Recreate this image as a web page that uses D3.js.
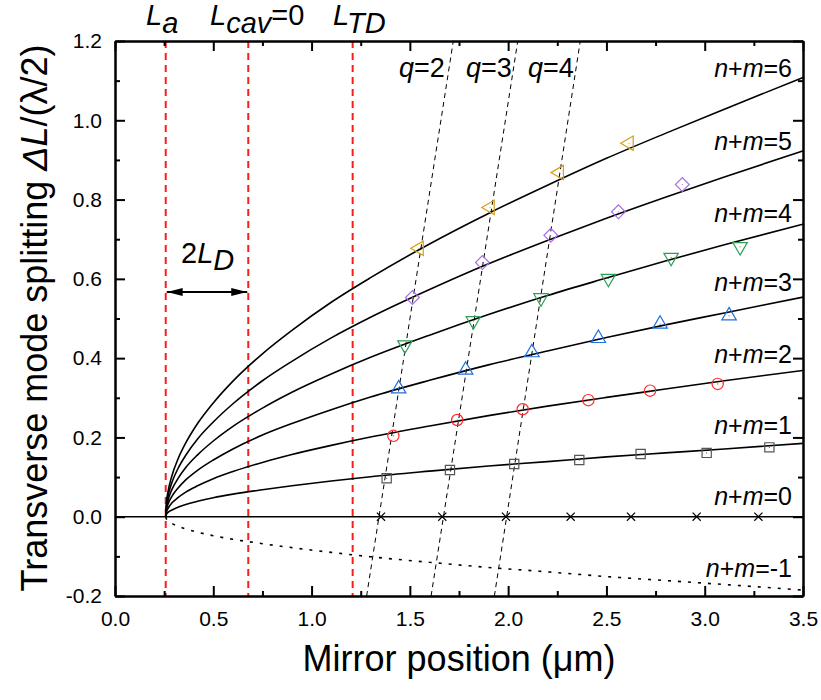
<!DOCTYPE html>
<html><head><meta charset="utf-8">
<script src="https://cdnjs.cloudflare.com/ajax/libs/d3/7.8.5/d3.min.js"></script>
<style>
body{margin:0;background:#fff}
svg{display:block}
text{font-family:"Liberation Sans",Arial,sans-serif;fill:#000}
</style>
</head><body>
<svg id="chart" width="821" height="700"></svg>
<script>
// ---------------- data ----------------
const curveX   = [0.258,0.262,0.27,0.29,0.32,0.36,0.42,0.5,0.6,0.75,0.9,1.1,1.3,1.6,1.9,2.2,2.5,2.8,3.1,3.5];
const curveNM1 = [0,0.006,0.011,0.017,0.024,0.031,0.039,0.048,0.057,0.068,0.078,0.090,0.101,0.115,0.128,0.139,0.151,0.161,0.171,0.185];
const curveNM2 = [0,0.012,0.021,0.035,0.048,0.062,0.078,0.096,0.114,0.137,0.157,0.180,0.201,0.229,0.255,0.279,0.301,0.322,0.343,0.369];
const curveNM3 = [0,0.018,0.032,0.052,0.072,0.093,0.117,0.143,0.171,0.206,0.235,0.270,0.302,0.344,0.383,0.418,0.452,0.484,0.514,0.554];
const curveNM4 = [0,0.024,0.042,0.069,0.096,0.124,0.156,0.191,0.228,0.274,0.314,0.360,0.402,0.458,0.510,0.558,0.602,0.645,0.686,0.738];
const curveNM5 = [0,0.031,0.053,0.087,0.121,0.155,0.196,0.239,0.285,0.343,0.392,0.451,0.503,0.573,0.638,0.697,0.753,0.806,0.857,0.923];
const curveNM6 = [0,0.037,0.064,0.104,0.145,0.186,0.235,0.287,0.342,0.411,0.470,0.541,0.603,0.688,0.765,0.836,0.904,0.967,1.028,1.108];
const curveNMm1= [0,-0.006,-0.011,-0.017,-0.024,-0.031,-0.039,-0.048,-0.057,-0.068,-0.078,-0.090,-0.101,-0.115,-0.128,-0.139,-0.151,-0.161,-0.171,-0.185];
const zeroLineX = [0, 3.5];
const zeroLineY = [0, 0];
const curveLabels = ["n+m=6","n+m=5","n+m=4","n+m=3","n+m=2","n+m=1","n+m=0","n+m=-1"];

const crossX   = [1.353,1.665,1.989,2.318,2.625,2.959,3.273];
const crossY   = [0,0,0,0,0,0,0];
const squareX  = [1.382,1.704,2.031,2.362,2.674,3.010,3.329];
const squareY  = [0.097,0.118,0.133,0.143,0.158,0.161,0.175];
const circleX  = [1.416,1.741,2.074,2.408,2.722,3.066];
const circleY  = [0.204,0.244,0.271,0.294,0.318,0.335];
const triUpX   = [1.443,1.784,2.121,2.459,2.773,3.124];
const triUpY   = [0.323,0.370,0.414,0.450,0.486,0.507];
const triDownX = [1.475,1.823,2.167,2.510,2.829,3.180];
const triDownY = [0.433,0.494,0.552,0.601,0.654,0.681];
const diamondX = [1.513,1.869,2.217,2.561,2.886];
const diamondY = [0.553,0.641,0.710,0.769,0.838];
const triLeftX = [1.547,1.908,2.260,2.615];
const triLeftY = [0.677,0.780,0.868,0.942];

const qLabels  = ["2","3","4"];
const qLineXBottom = [1.280,1.608,1.930];   // at y = -0.2
const qLineXTop    = [1.721,2.049,2.367];   // at y = 1.2
const refLineX = [0.258, 0.678, 1.209];      // La, Lcav=0, LTD

const xTicks = [0,0.5,1,1.5,2,2.5,3,3.5];
const xTickLabels = ["0.0","0.5","1.0","1.5","2.0","2.5","3.0","3.5"];
const xMinor = [0.25,0.75,1.25,1.75,2.25,2.75,3.25];
const yTicks = [-0.2,0,0.2,0.4,0.6,0.8,1.0,1.2];
const yTickLabels = ["-0.2","0.0","0.2","0.4","0.6","0.8","1.0","1.2"];
const yMinor = [-0.1,0.1,0.3,0.5,0.7,0.9,1.1];

// ---------------- layout ----------------
const L = 115, R = 803, T = 41, B = 596;
const svg = d3.select("#chart");
const x = d3.scaleLinear().domain([0,3.5]).range([L,R]);
const y = d3.scaleLinear().domain([-0.2,1.2]).range([B,T]);
const FONT = '"Liberation Sans",Arial,sans-serif';

const plot = svg.append("g");

// red dashed reference lines
plot.selectAll("line.ref").data(refLineX).enter().append("line")
  .attr("x1",d=>x(d)).attr("x2",d=>x(d)).attr("y1",y(1.2)).attr("y2",y(-0.2))
  .attr("stroke","#ff1a1a").attr("stroke-width",2).attr("stroke-dasharray","7,5");

// q dashed lines
plot.selectAll("line.q").data(qLabels).enter().append("line")
  .attr("x1",(d,i)=>x(qLineXBottom[i])).attr("y1",y(-0.2))
  .attr("x2",(d,i)=>x(qLineXTop[i])).attr("y2",y(1.2))
  .attr("stroke","#000").attr("stroke-width",1).attr("stroke-dasharray","5,4");

// curves
const line = d3.line().x(d=>x(d[0])).y(d=>y(d[1])).curve(d3.curveMonotoneX);
[curveNM1,curveNM2,curveNM3,curveNM4,curveNM5,curveNM6].forEach(arr=>{
  plot.append("path").datum(curveX.map((v,i)=>[v,arr[i]]))
    .attr("d",line).attr("fill","none").attr("stroke","#000").attr("stroke-width",1.6);
});
plot.append("path").datum(zeroLineX.map((v,i)=>[v,zeroLineY[i]]))
  .attr("d",line).attr("fill","none").attr("stroke","#000").attr("stroke-width",1.6);
plot.append("path").datum(curveX.map((v,i)=>[v,curveNMm1[i]]))
  .attr("d",line).attr("fill","none").attr("stroke","#000").attr("stroke-width",1.6)
  .attr("stroke-dasharray","3,7");

// markers
function markers(xs, ys, type, size, rot, color){
  const g = plot.append("g");
  const sym = d3.symbol().type(type).size(size);
  xs.forEach((v,i)=>{
    g.append("path").attr("d",sym())
      .attr("transform",`translate(${x(v)},${y(ys[i])}) rotate(${rot})`)
      .attr("fill","none").attr("stroke",color).attr("stroke-width",1.2);
    g.append("circle").attr("cx",x(v)).attr("cy",y(ys[i])).attr("r",0.6).attr("fill",color);
  });
}
markers(crossX, crossY, d3.symbolX, 45, 0, "#000");
markers(squareX, squareY, d3.symbolSquare, 85, 0, "#555");
markers(circleX, circleY, d3.symbolCircle, 100, 0, "#ff2a2a");
markers(triUpX, triUpY, d3.symbolTriangle, 90, 0, "#1f6fe0");
markers(triDownX, triDownY, d3.symbolTriangle, 90, 180, "#2e9e55");
markers(diamondX, diamondY, d3.symbolSquare, 95, 45, "#a86ee6");
markers(triLeftX, triLeftY, d3.symbolTriangle, 90, -90, "#d4a017");

// ---------------- axes ----------------
function styleAxis(g){
  g.selectAll("path.domain").attr("stroke","#000").attr("stroke-width",2);
  g.selectAll(".tick line").attr("stroke","#000").attr("stroke-width",2);
  g.selectAll("text").attr("font-family",FONT).attr("font-size",21).attr("fill","#000");
}
const axB = svg.append("g").attr("transform",`translate(0,${B})`)
  .call(d3.axisBottom(x).tickValues(xTicks).tickFormat((d,i)=>xTickLabels[i]).tickSizeInner(-10).tickSizeOuter(0).tickPadding(15));
styleAxis(axB);
const axBm = svg.append("g").attr("transform",`translate(0,${B})`)
  .call(d3.axisBottom(x).tickValues(xMinor).tickFormat("").tickSizeInner(-5).tickSizeOuter(0));
styleAxis(axBm);
const axT = svg.append("g").attr("transform",`translate(0,${T})`)
  .call(d3.axisTop(x).tickValues(xTicks).tickFormat("").tickSizeInner(-10).tickSizeOuter(0));
styleAxis(axT);
const axTm = svg.append("g").attr("transform",`translate(0,${T})`)
  .call(d3.axisTop(x).tickValues(xMinor).tickFormat("").tickSizeInner(-5).tickSizeOuter(0));
styleAxis(axTm);
const axLft = svg.append("g").attr("transform",`translate(${L},0)`)
  .call(d3.axisLeft(y).tickValues(yTicks).tickFormat((d,i)=>yTickLabels[i]).tickSizeInner(-10).tickSizeOuter(0).tickPadding(13));
styleAxis(axLft);
const axLm = svg.append("g").attr("transform",`translate(${L},0)`)
  .call(d3.axisLeft(y).tickValues(yMinor).tickFormat("").tickSizeInner(-5).tickSizeOuter(0));
styleAxis(axLm);
const axRt = svg.append("g").attr("transform",`translate(${R},0)`)
  .call(d3.axisRight(y).tickValues(yTicks).tickFormat("").tickSizeInner(-10).tickSizeOuter(0));
styleAxis(axRt);
const axRm = svg.append("g").attr("transform",`translate(${R},0)`)
  .call(d3.axisRight(y).tickValues(yMinor).tickFormat("").tickSizeInner(-5).tickSizeOuter(0));
styleAxis(axRm);

// ---------------- titles ----------------
svg.append("text").attr("x",(L+R)/2).attr("y",671).attr("text-anchor","middle")
  .attr("font-size",36).text("Mirror position (μm)");

const yt = svg.append("text").attr("transform",`translate(47,318) rotate(-90)`)
  .attr("text-anchor","middle").attr("font-size",36);
yt.append("tspan").text("Transverse mode splitting ");
yt.append("tspan").attr("font-style","italic").text("ΔL");
yt.append("tspan").text("/(λ/2)");

// ---------------- annotations ----------------
function subLabel(xp, yp, main, sub, tail, fs){
  const t = svg.append("text").attr("x",xp).attr("y",yp).attr("font-size",fs);
  t.append("tspan").attr("font-style","italic").text(main);
  t.append("tspan").attr("font-style","italic").attr("dy",8).text(sub);
  if (tail) t.append("tspan").attr("dy",-8).text(tail);
}
subLabel(146, 25, "L", "a", null, 29);
subLabel(210, 25, "L", "cav", "=0", 29);
subLabel(333, 25, "L", "TD", null, 29);

// 2L_D
const t2 = svg.append("text").attr("x",181).attr("y",263).attr("font-size",29);
t2.append("tspan").text("2");
t2.append("tspan").attr("font-style","italic").text("L");
t2.append("tspan").attr("font-style","italic").attr("dy",7).text("D");

// double arrow between La and Lcav
const defs = svg.append("defs");
defs.append("marker").attr("id","ah").attr("viewBox","0 0 16 8").attr("refX",16).attr("refY",4)
  .attr("markerWidth",16).attr("markerHeight",8).attr("markerUnits","userSpaceOnUse").attr("orient","auto-start-reverse")
  .append("path").attr("d","M0,0 L16,4 L0,8 Z").attr("fill","#000");
svg.append("line").attr("x1",x(refLineX[0])+1).attr("x2",x(refLineX[1])-1)
  .attr("y1",292).attr("y2",292).attr("stroke","#000").attr("stroke-width",2)
  .attr("marker-start","url(#ah)").attr("marker-end","url(#ah)");

// q labels
const qStart = [399, 466, 528];
qLabels.forEach((q,i)=>{
  const t = svg.append("text").attr("x",qStart[i]).attr("y",77).attr("font-size",27);
  t.append("tspan").attr("font-style","italic").text("q");
  t.append("tspan").text("="+q);
});

// n+m labels
const nmBase = [77,150,222,291,363,434,505,577];
curveLabels.forEach((lab,i)=>{
  const t = svg.append("text").attr("x",792).attr("y",nmBase[i]).attr("text-anchor","end").attr("font-size",25);
  t.append("tspan").attr("font-style","italic").text("n");
  t.append("tspan").text("+");
  t.append("tspan").attr("font-style","italic").text("m");
  t.append("tspan").text(lab.slice(3));
});
</script>
</body></html>
